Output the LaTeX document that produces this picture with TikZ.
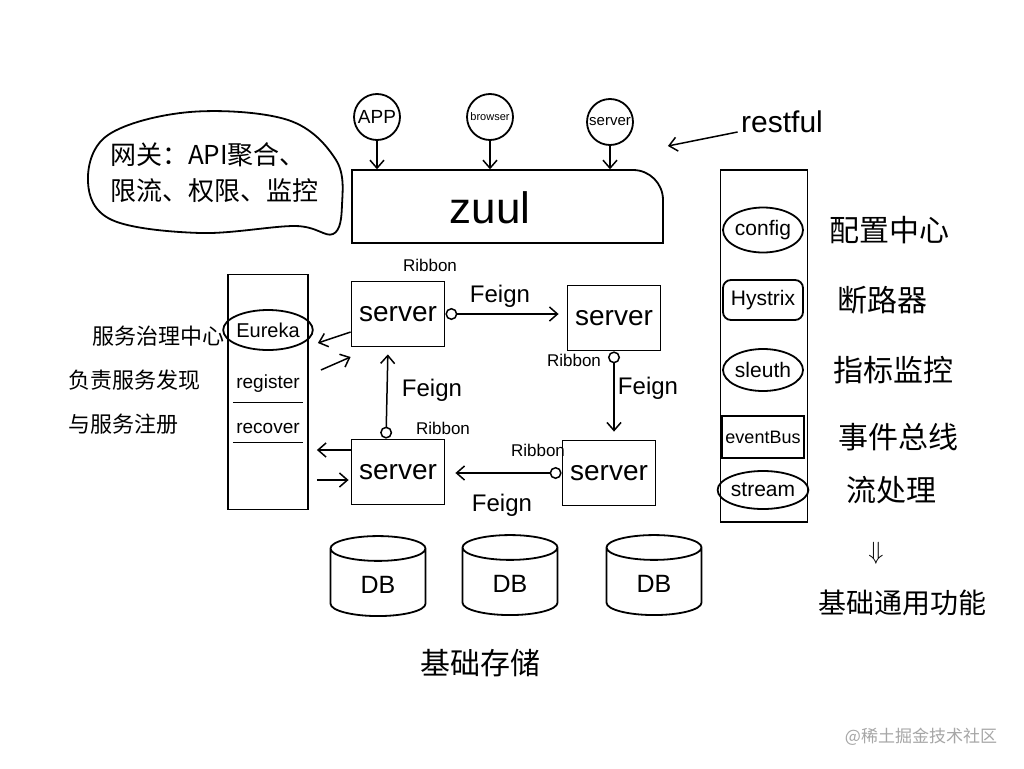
\documentclass[tikz,border=0pt]{standalone}
\usepackage{fontspec}
\setmainfont{Liberation Sans}
\newfontfamily\cjk{Noto Sans CJK SC}
\usetikzlibrary{arrows.meta,shapes.geometric,positioning}

\tikzset{
	sketch/.style={draw=black,line width=1.8pt},
	srv/.style={sketch,rectangle,minimum width=93pt,minimum height=65pt,font=\fontsize{28}{30}\selectfont},
	client/.style={sketch,circle,minimum size=46pt,inner sep=0pt},
	tool/.style={sketch,minimum width=80pt,minimum height=42pt,inner sep=0pt,font=\fontsize{21}{23}\selectfont},
	db/.style={sketch,cylinder,shape border rotate=90,aspect=0.6,minimum width=95pt,minimum height=80pt,font=\fontsize{25}{27}\selectfont},
	arr/.style={line width=1.5pt,-{Straight Barb[length=8pt,width=14pt]}},
	callarr/.style={line width=1.5pt,{Circle[open,length=12pt,width=12pt]}-{Straight Barb[length=8pt,width=14pt]}},
	ribbon/.style={font=\fontsize{17}{19}\selectfont},
	feign/.style={font=\fontsize{24}{26}\selectfont},
	zh/.style={font=\cjk\fontsize{30}{34}\selectfont},
}

\begin{document}
\begin{tikzpicture}[x=1pt,y=-1pt]
		\useasboundingbox[fill=white] (0,0) rectangle (1024,768);
		
		% gateway
		\node[align=left,font=\cjk\fontsize{26}{36}\selectfont] (gateway) at (214,173) {网关：API聚合、\\限流、权限、监控};
		\draw[sketch] plot[smooth cycle,tension=0.6] coordinates {(88,182) (108,135) (190,112) (288,120) (336,160) (342,205) (333,234) (295,226) (200,233) (112,220)};
		
		\node[client,font=\fontsize{19}{21}\selectfont] (app) at (377,117) {APP};
		\node[client,font=\fontsize{11}{13}\selectfont] (browser) at (490,117) {browser};
		\node[client,font=\fontsize{15}{17}\selectfont] (cserver) at (610,122) {server};
		
		\node[minimum width=311pt,minimum height=73pt,font=\fontsize{44}{48}\selectfont] (zuul) at (490,208) {zuul};
		\draw[sketch] (352,243) -- (352,170) [rounded corners=30pt] -- (663,170) [sharp corners] -- (663,243) -- cycle;
		
		\draw[arr,shorten >=2pt] (app.south) -- (app.south |- zuul.north);
		\draw[arr,shorten >=2pt] (browser.south) -- (browser.south |- zuul.north);
		\draw[arr,shorten >=2pt] (cserver.south) -- (cserver.south |- zuul.north);
		
		\node[font=\fontsize{30}{32}\selectfont] (restful) at (782,122) {restful};
		\draw[arr] ([yshift=-10pt]restful.west) -- ([xshift=34pt,yshift=-24pt]cserver.east);
		
		% services
		\node[srv] (s1) at (398,314) {server};
		\node[srv] (s2) at (614,318) {server};
		\node[srv] (s3) at (398,472) {server};
		\node[srv] (s4) at (609,473) {server};
		
		\draw[callarr,shorten >=8pt] (s1.east) -- (s1.east -| s2.west);
		\draw[callarr,shorten >=8pt] (s2.south) -- (s2.south |- s4.north);
		\draw[callarr,shorten >=10pt] (s4.west) -- (s4.west -| s3.east);
		\draw[callarr,shorten >=7pt] ([xshift=-12pt]s3.north) -- ([xshift=-10pt]s1.south);
		
		\node[ribbon] (rb1) at (430,265) {Ribbon};
		\node[feign] (fg1) at (500,296) {Feign};
		\node[ribbon] (rb2) at (574,360) {Ribbon};
		\node[feign] (fg2) at (648,388) {Feign};
		\node[ribbon] (rb3) at (538,450) {Ribbon};
		\node[feign] (fg3) at (502,505) {Feign};
		\node[feign] (fg4) at (432,390) {Feign};
		\node[ribbon] (rb4) at (443,428) {Ribbon};
		
		% eureka
		\node[sketch,minimum width=80pt,minimum height=235pt] (reg) at (268,392) {};
		\node[sketch,ellipse,minimum width=76pt,minimum height=40pt,inner sep=0pt,font=\fontsize{20}{22}\selectfont] (eureka) at (268,330) {Eureka};
		\node[font=\fontsize{19}{21}\selectfont] (register) at (268,384) {register};
		\node[font=\fontsize{19}{21}\selectfont] (recover) at (268,428) {recover};
		\draw[line width=1.5pt] ([yshift=-6pt]register.south west) -- ([yshift=-6pt]register.south east);
		\draw[line width=1.5pt] ([yshift=-6pt]recover.south west) -- ([yshift=-6pt]recover.south east);
		
		\draw[arr] ([yshift=-18pt]s1.west) -- ([xshift=9pt,yshift=49pt]reg.east);
		\draw[arr] ([xshift=12pt,yshift=22pt]reg.east) -- ([yshift=-43pt]s1.west);
		\draw[arr] ([yshift=22pt]s3.west) -- ([xshift=8pt,yshift=-58pt]reg.east);
		\draw[arr,shorten >=2pt] ([xshift=8pt,yshift=-88pt]reg.east) -- ([yshift=-8pt]s3.west);
		
		\node[align=left,font=\cjk\fontsize{22}{44}\selectfont,anchor=west,inner sep=0pt] (govern) at (68,380) {\hspace*{24pt}服务治理中心\\负责服务发现\\与服务注册};
		
		% common tools
		\node[sketch,minimum width=87pt,minimum height=352pt] (tools) at (764,346) {};
		\node[tool,ellipse,minimum height=45pt] (config) at (763,230) {config};
		\node[tool,rounded corners=8pt,minimum height=40pt] (hystrix) at (763,300) {Hystrix};
		\node[tool,ellipse] (sleuth) at (763,370) {sleuth};
		\node[tool,minimum width=82pt,font=\fontsize{18}{20}\selectfont] (eventbus) at (763,437) {eventBus};
		\node[tool,ellipse,minimum width=82pt,minimum height=38pt] (stream) at (763,490) {stream};
		
		\node[zh,right=22pt of config] (lconfig) {配置中心};
		\node[zh,right=30pt of hystrix] (lhystrix) {断路器};
		\node[zh,right=26pt of sleuth] (lsleuth) {指标监控};
		\node[zh,right=30pt of eventbus] (leventbus) {事件总线};
		\node[zh,right=34pt of stream] (lstream) {流处理};
		
		\node[font=\fontsize{30}{32}\selectfont] (down) at (876,553) {$\Downarrow$};
		\node[zh,font=\cjk\fontsize{28}{32}\selectfont] (common) at (902,603) {基础通用功能};
		
		% storage
		\node[db] (db1) at (378,585) {DB};
		\node[db] (db2) at (510,584) {DB};
		\node[db] (db3) at (654,584) {DB};
		\node[zh] (storage) at (480,663) {基础存储};
		
		\node[font=\cjk\fontsize{17}{19}\selectfont,text=black!35] (mark) at (921,737) {@稀土掘金技术社区};
	
	\end{tikzpicture}
\end{document}
